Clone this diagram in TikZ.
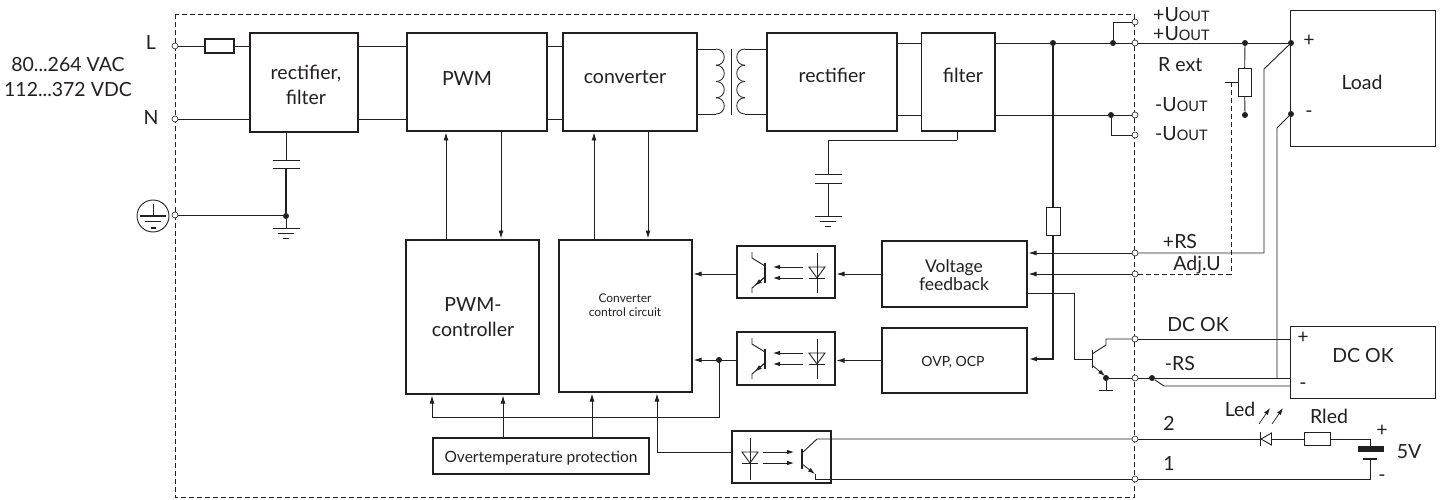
\documentclass[tikz,border=0pt]{standalone}
\usepackage{fontspec}
\setmainfont{Lato}
\usetikzlibrary{arrows.meta}
\definecolor{ink}{RGB}{35, 31, 32}
\tikzset{
    wire/.style={draw=ink, line width=0.9pt},
    heavy/.style={draw=ink, line width=1.5pt},
    sig/.style={wire, -{Latex[length=8pt, width=5pt]}, shorten >=1.5pt},
    tiny tip/.style={draw=ink, line width=0.8pt, -{Latex[length=7pt, width=4.5pt]}},
    frame/.style={draw=ink, dashed, dash pattern=on 5pt off 3pt, line width=0.8pt},
    block/.style={draw=ink, line width=1.5pt, inner sep=0, outer sep=0},
    outbox/.style={draw=ink, line width=0.8pt, inner sep=0, outer sep=0},
    fuse/.style={draw=ink, line width=0.8pt, inner sep=0, outer sep=0},
    term/.style={circle, draw=ink, fill=white, line width=0.6pt, minimum size=6pt, inner sep=0},
    dot/.style={circle, fill=ink, minimum size=6pt, inner sep=0},
    txt/.style={text=ink, inner sep=0, font=\fontsize{19.5}{25}\selectfont, align=center},
    feedtxt/.style={txt, font=\fontsize{17.5}{17.5}\selectfont},
    midtxt/.style={txt, font=\fontsize{15.5}{17}\selectfont},
    ovptxt/.style={txt, font=\fontsize{14}{17}\selectfont},
    smalltxt/.style={txt, font=\fontsize{12}{14.5}\selectfont}
}
\newcommand{\uout}{U{\fontsize{14.5}{14.5}\selectfont OUT}}

\begin{document}
\begin{tikzpicture}[x=1pt, y=-1pt]

    \useasboundingbox (0, 0) rectangle (1441, 500);

    \draw[frame] (175, 14.5) rectangle (1134.5, 497);

    \node[block, minimum width=108, minimum height=99] (rectfilter) at (304, 82.5) {};
    \node[block, minimum width=140, minimum height=98] (pwm) at (477, 82) {};
    \node[block, minimum width=134, minimum height=98] (converter) at (630, 82) {};
    \node[block, minimum width=130, minimum height=98] (rectifier) at (832, 82) {};
    \node[block, minimum width=73.5, minimum height=98] (filter) at (958.2, 82) {};
    \node[block, minimum width=133, minimum height=154] (pwmctrl) at (472.5, 317) {};
    \node[block, minimum width=133, minimum height=152] (ctrl) at (625.5, 316) {};
    \node[block, line width=1.2pt, minimum width=216, minimum height=36] (overtemp) at (541, 456) {};
    \node[block, minimum width=98, minimum height=52] (optoa) at (786, 272) {};
    \node[block, minimum width=98, minimum height=53] (optob) at (786, 358.5) {};
    \node[block, minimum width=99, minimum height=52] (optoc) at (781.5, 457) {};
    \node[block, minimum width=145, minimum height=66] (vf) at (954.5, 274) {};
    \node[block, minimum width=145, minimum height=65] (ovp) at (954.5, 360.5) {};
    \node[outbox, minimum width=145, minimum height=136] (load) at (1362.5, 78) {};
    \node[outbox, minimum width=145, minimum height=72] (dcok) at (1362.5, 362) {};

    \node[fuse, line width=1.2pt, minimum width=29, minimum height=14] (fusein) at (219.5, 46) {};
    \node[fuse, minimum width=13, minimum height=28] (rext) at (1244.5, 82) {};
    \node[fuse, minimum width=14, minimum height=28] (fusefb) at (1053, 221) {};
    \node[fuse, minimum width=26, minimum height=13] (rled) at (1317, 439) {};

    \foreach \name/\x/\y in {termL/175/46, termN/175/119, termPE/175/215,
        termup/1135/22, termout/1135/43, termoutn/1135/115, termdn/1135/135,
        termrs/1135/253, termadj/1135/274, termok/1135/339, termrsn/1135/378,
        termtwo/1135/439, termone/1135/479} {%
        \node[term] (\name) at (\x, \y) {};
    };

    \foreach \name/\x/\y in {dotpe/286/216, dotout/1053/43, dotup/1113/43,
        dotdn/1111/115, dotrp/1245/43, dotload/1291/43, dotrm/1245/115,
        dotloadm/1291/114, dotq/1106/378, dotrsn/1152/378, dotfb/719/360} {%
        \node[dot] (\name) at (\x, \y) {};
    };

    \foreach \name/\x/\y in {pwmup/446/0, pwmdown/501/0, convup/594/0, convdown/648/0,
        ovta/503/0, ovtb/592/0, optobend/657/452, fbleft/432/417.5, ovpbend/1053/359,
        vfout/1074/293, qbase/1092/359, rsbend/1264/69, loadbend/1277/128,
        adjtop/1231/82, adjstub/1225/82, rsnbend/1164/386, capl/286/160, capm/286/168,
        gndl/286/228, capr/828/174, caprm/828/183, gndr/828/216, capbend/957/140,
        ledk/1260/439, leda/1271/439, batt/1370/439, battb/1370/459, qgnd/1106/390} {%
        \coordinate (\name) at (\x, \y);
    };

    % input side
    \draw[wire] (termL) -- (fusein);
    \draw[wire] (fusein) -- (rectfilter.west |- termL);
    \draw[wire] (termN) -- (rectfilter.west |- termN);
    \draw[wire] (termPE) -- (termPE -| dotpe);
    \draw[wire] (capl |- rectfilter.south) -- (capl);
    \draw[heavy] (capm) -- (dotpe);
    \draw[wire] (dotpe) -- (gndl);
    \draw[wire] ([xshift=-13.5]capl) -- ([xshift=13.5]capl);
    \draw[wire] ([xshift=-13.5]capm) -- ([xshift=13.5]capm);

    \foreach \name in {gndl, gndr} {%
        \draw[wire] ([xshift=-13.5]\name) -- ([xshift=13.5]\name);
        \draw[wire] ([xshift=-8, yshift=-5]\name) -- ([xshift=8, yshift=-5]\name);
        \draw[wire] ([xshift=-3, yshift=-10]\name) -- ([xshift=3, yshift=-10]\name);
    };

    \node[circle, draw=ink, line width=0.9pt, minimum size=32, inner sep=0] (pesym) at (153, 216) {};
    \draw[wire] (153, 204) -- (153, 216);
    \draw[heavy] (139.5, 216) -- (166, 216);
    \draw[wire] (145, 221.5) -- (160.5, 221.5);
    \draw[heavy] (150.5, 228) -- (155.5, 228);

    % power path
    \foreach \name in {termL, termN} {%
        \draw[wire] (rectfilter.east |- \name) -- (pwm.west |- \name);
        \draw[wire] (pwm.east |- \name) -- (converter.west |- \name);
    };
    \foreach \name in {termout, termoutn} {%
        \draw[wire] (rectifier.east |- \name) -- (filter.west |- \name);
    };
    \draw[wire] (filter.east |- termout) -- (dotout) -- (dotup) -- (termout);
    \draw[wire] (filter.east |- termoutn) -- (dotdn) -- (termoutn);
    \draw[wire] (dotup) |- (termup);
    \draw[wire] (dotdn) |- (termdn);
    \draw[wire] (termout) -- (dotrp) -- (dotload);

    \draw[wire] (697, 49) -- (716, 49);
    \draw[wire] (697, 114) -- (716, 114);
    \draw[wire] (767, 49) -- (745, 49);
    \draw[wire] (767, 114) -- (745, 114);
    \foreach \val in {49, 65.25, 81.5, 97.75} {%
        \draw[wire, line width=0.8pt] (716, \val) .. controls (727, \val) and (727, \val+16.25) .. (716, \val+16.25);
        \draw[wire, line width=0.8pt] (745, \val) .. controls (734, \val) and (734, \val+16.25) .. (745, \val+16.25);
    };
    \draw[wire] (731, 49) -- (731, 115);

    \draw[wire] (capbend) -- (capbend |- filter.south);
    \draw[wire] (capbend) -- (capr |- capbend) -- (capr);
    \draw[wire] (caprm) -- (gndr);
    \draw[wire] ([xshift=-13.5]capr) -- ([xshift=13.5]capr);
    \draw[wire] ([xshift=-13.5]caprm) -- ([xshift=13.5]caprm);

    % control blocks
    \draw[sig] (pwmup |- pwmctrl.north) -- (pwmup |- pwm.south);
    \draw[sig] (pwmdown |- pwm.south) -- (pwmdown |- pwmctrl.north);
    \draw[sig] (convup |- ctrl.north) -- (convup |- converter.south);
    \draw[sig] (convdown |- converter.south) -- (convdown |- ctrl.north);

    \draw[sig] (vf.west) -- (vf.west -| optoa.east);
    \draw[sig] (ovp.west) -- (ovp.west -| optob.east);
    \draw[sig] (optoa.west |- vf.west) -- (ctrl.east |- vf.west);
    \draw[wire] (optob.west |- dotfb) -- (dotfb);
    \draw[sig] (dotfb) -- (ctrl.east |- dotfb);
    \draw[sig] (dotfb) |- (fbleft) -- (fbleft |- pwmctrl.south);
    \draw[sig] (ovta |- overtemp.north) -- (ovta |- pwmctrl.south);
    \draw[sig] (ovtb |- overtemp.north) -- (ovtb |- ctrl.south);
    \draw[sig] (optoc.west |- optobend) -- (optobend) -- (optobend |- ctrl.south);

    \draw[heavy] (dotout) -- (fusefb);
    \draw[heavy, -{Latex[length=8pt, width=5pt]}, line width=1.3pt, shorten >=2pt] (fusefb) |- (ovp.east |- ovpbend);
    \draw[sig] (termrs) -- (vf.east |- termrs);
    \draw[sig] (termadj) -- (vf.east |- termadj);
    \draw[wire] (vf.east |- vfout) -- (vfout) |- (qbase);

    \foreach \val in {0, 86} {%
        \draw[wire, line width=1pt] (817, 253+\val) -- (817, 293+\val);
        \draw[wire] (809, 267+\val) -- (825, 267+\val) -- (817, 278+\val) -- cycle;
        \draw[wire] (809, 278+\val) -- (825, 278+\val);
        \draw[tiny tip] (803, 267+\val) -- (773, 267+\val);
        \draw[tiny tip] (803, 278+\val) -- (773, 278+\val);
        \draw[wire, line width=1.2pt] (765, 263+\val) -- (765, 283+\val);
        \draw[wire] (752, 252+\val) -- (752, 258+\val) -- (765, 266+\val);
        \draw[wire] (752, 293+\val) -- (752, 288+\val) -- (765, 277+\val);
        \draw[tiny tip] (765, 277+\val) -- (755, 285.5+\val);
    };

    \draw[wire, line width=1pt] (750, 438) -- (750, 480);
    \draw[wire] (742, 452) -- (758, 452) -- (750, 463) -- cycle;
    \draw[wire] (742, 463.5) -- (758, 463.5);
    \draw[tiny tip] (763, 452) -- (794, 452);
    \draw[tiny tip] (763, 463) -- (794, 463);
    \draw[wire, line width=1.2pt] (802, 449) -- (802, 469);
    \draw[wire] (802, 453) -- (817, 439) -- (termtwo);
    \draw[wire] (815, 474) -- (815, 479) -- (termone);
    \draw[tiny tip] (802, 464) -- (815, 474);

    % output side
    \draw[wire] (dotrp) -- (rext);
    \draw[wire] (rext) -- (dotrm);
    \draw[frame] (termadj) -| (adjtop);
    \draw[wire] (adjstub) -- (rext.west);
    \draw[wire] (termrs) -| (rsbend) -- (dotload);
    \draw[wire] (dotloadm) -- (loadbend) -- (loadbend |- termrsn);

    \draw[wire] (qbase |- 0, 350) -- (qbase |- 0, 368);
    \draw[wire] (1092, 354) -- (1106, 345) -- (1106, 339) -- (termok);
    \draw[tiny tip] (1092, 365) -- (1105, 376);
    \draw[wire] (dotq) -- (qgnd);
    \draw[wire] ([xshift=-7]qgnd) -- ([xshift=7]qgnd);
    \draw[wire] (dotq) -- (termrsn);
    \draw[wire] (termrsn) -- (dotrsn) -- (dcok.west |- dotrsn);
    \draw[wire] (dotrsn) -- (rsnbend) -- (dcok.west |- rsnbend);
    \draw[wire] (termok) -- (dcok.west |- termok);

    \draw[wire] (termtwo) -- (ledk);
    \draw[wire] (ledk |- 0, 432) -- (ledk |- 0, 446);
    \draw[wire] (1261, 439) -- (1271.5, 433) -- (1271.5, 445) -- cycle;
    \draw[wire] (leda) -- (rled);
    \draw[wire] (rled) -- (batt) -- ([yshift=-7]batt);
    \draw[tiny tip, line width=0.7pt] (1259, 424) -- (1270, 408);
    \draw[tiny tip, line width=0.7pt] (1272, 424) -- (1283, 408);
    \fill[ink] (1358, 446) rectangle (1384, 452);
    \draw[wire, line width=1.2pt] (1363, 459) -- (1377, 459);
    \draw[wire] (battb) |- (termone);

    % labels
    \node[txt] (lblL) at (151, 43) {L};
    \node[txt] (lblN) at (151, 118) {N};
    \node[txt] (lblrange) at (68, 77.5) {80...264 VAC\\112...372 VDC};
    \node[txt] (lblrectfilter) at (306, 85) {rectifier,\\filter};
    \node[txt] (lblpwm) at (467, 79) {PWM};
    \node[txt] (lblconverter) at (625, 77) {converter};
    \node[txt] (lblrectifier) at (832, 75) {rectifier};
    \node[txt] (lblfilter) at (963, 75) {filter};
    \node[txt] (lblpwmctrl) at (473, 317) {PWM-\\controller};
    \node[smalltxt] (lblctrl) at (625, 305) {Converter\\control circuit};
    \node[feedtxt] (lblvf) at (954, 275) {Voltage\\feedback};
    \node[ovptxt] (lblovp) at (953, 362) {OVP, OCP};
    \node[midtxt] (lblovertemp) at (541, 458) {Overtemperature protection};
    \node[txt] (lblload) at (1362, 82) {Load};
    \node[txt] (lbldcok) at (1363, 356) {DC OK};
    \node[txt, anchor=west] (lblua) at (1153, 15) {+\uout};
    \node[txt, anchor=west] (lblub) at (1153, 34) {+\uout};
    \node[txt, anchor=west] (lbluc) at (1155, 105) {-\uout};
    \node[txt, anchor=west] (lblud) at (1155, 134) {-\uout};
    \node[txt, anchor=west] (lblrext) at (1158, 65) {R ext};
    \node[txt] (lblrs) at (1180, 242) {+RS};
    \node[txt] (lbladj) at (1197, 265) {Adj.U};
    \node[txt] (lblok) at (1198, 325) {DC OK};
    \node[txt] (lblrsn) at (1180, 364) {-RS};
    \node[txt] (lbltwo) at (1169, 423) {2};
    \node[txt] (lblone) at (1169, 463) {1};
    \node[txt] (lblled) at (1240, 409) {Led};
    \node[txt] (lblrled) at (1329, 416) {Rled};
    \node[txt] (lblbp) at (1382, 431) {+};
    \node[txt] (lblbm) at (1382, 478) {-};
    \node[txt] (lblfive) at (1409, 452) {5V};
    \node[txt] (lbllp) at (1309, 41) {+};
    \node[txt] (lbllm) at (1309, 114) {-};
    \node[txt] (lbldp) at (1303, 338) {+};
    \node[txt] (lbldm) at (1303, 386) {-};

\end{tikzpicture}
\end{document}
